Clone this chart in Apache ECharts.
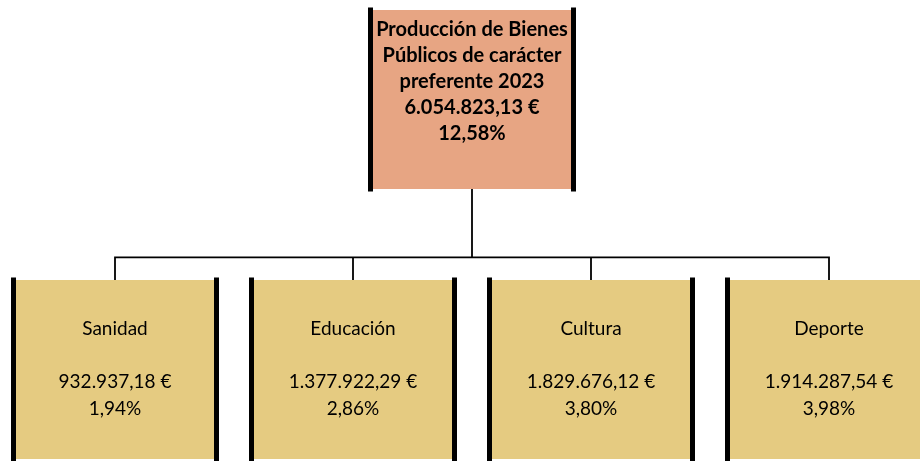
<!DOCTYPE html>
<html>
<head>
<meta charset="utf-8">
<script src="https://cdn.jsdelivr.net/npm/echarts@6/dist/echarts.min.js"></script>
<style>
html,body{margin:0;padding:0;background:#fff;}
#chart{width:920px;height:461px;}
</style>
</head>
<body>
<div id="chart"></div>
<script>
// ---- Data ----
const rootTitle = ['Producción de Bienes', 'Públicos de carácter', 'preferente 2023'];
const rootValue = 6054823.13;
const rootPercent = 12.58;
const categories = ['Sanidad', 'Educación', 'Cultura', 'Deporte'];
const values = [932937.18, 1377922.29, 1829676.12, 1914287.54];
const percents = [1.94, 2.86, 3.80, 3.98];

function fmtNum(v) {
  const parts = v.toFixed(2).split('.');
  const intPart = parts[0].replace(/\B(?=(\d{3})+(?!\d))/g, '.');
  return intPart + ',' + parts[1];
}
function fmtPct(p) { return p.toFixed(2).replace('.', ',') + '%'; }

const FONT = 'Lato';
const rootFill = '#E7A583';
const leafFill = '#E5CB81';

function buildTree(forBars) {
  const root = {
    name: rootTitle.join('\n') + '\n' + fmtNum(rootValue) + ' €\n' + fmtPct(rootPercent),
    itemStyle: { color: forBars ? '#000' : rootFill },
    label: forBars ? { show: false } : {
      show: true, position: 'inside', offset: [0, -18],
      fontFamily: FONT, fontWeight: 'bold', fontSize: 20, lineHeight: 26, color: '#000'
    },
    children: categories.map((c, i) => ({
      name: c + '\n\n' + fmtNum(values[i]) + ' €\n' + fmtPct(percents[i]),
      itemStyle: { color: forBars ? '#000' : leafFill },
      label: forBars ? { show: false } : {
        show: true, position: 'inside', offset: [0, -0.5],
        fontFamily: FONT, fontWeight: 'normal', fontSize: 19, lineHeight: 26.5, color: '#000'
      }
    }))
  };
  return [root];
}

const common = {
  type: 'tree',
  orient: 'TB',
  left: -4,
  width: 952,
  top: 99.5,
  height: 270,
  roam: false,
  expandAndCollapse: false,
  initialTreeDepth: -1,
  animation: false,
  edgeShape: 'polyline',
  edgeForkPosition: '58.5%',
  emphasis: { disabled: true },
  silent: true
};

const chart = echarts.init(document.getElementById('chart'), null, { renderer: 'canvas' });
chart.setOption({
  animation: false,
  series: [
    Object.assign({}, common, {
      data: buildTree(true),
      symbol: 'path://M0,0H5V184H0Z M203,0H208V184H203Z',
      symbolSize: [208, 184],
      symbolKeepAspect: false,
      lineStyle: { color: '#000', width: 1.8, curveness: 0 },
      label: { show: false },
      leaves: { label: { show: false } }
    }),
    Object.assign({}, common, {
      data: buildTree(false),
      symbol: 'rect',
      symbolSize: [198, 179],
      lineStyle: { width: 0, opacity: 0 },
      label: { show: true, position: 'inside' },
      leaves: { label: { show: true, position: 'inside' } }
    })
  ]
});
</script>
</body>
</html>
